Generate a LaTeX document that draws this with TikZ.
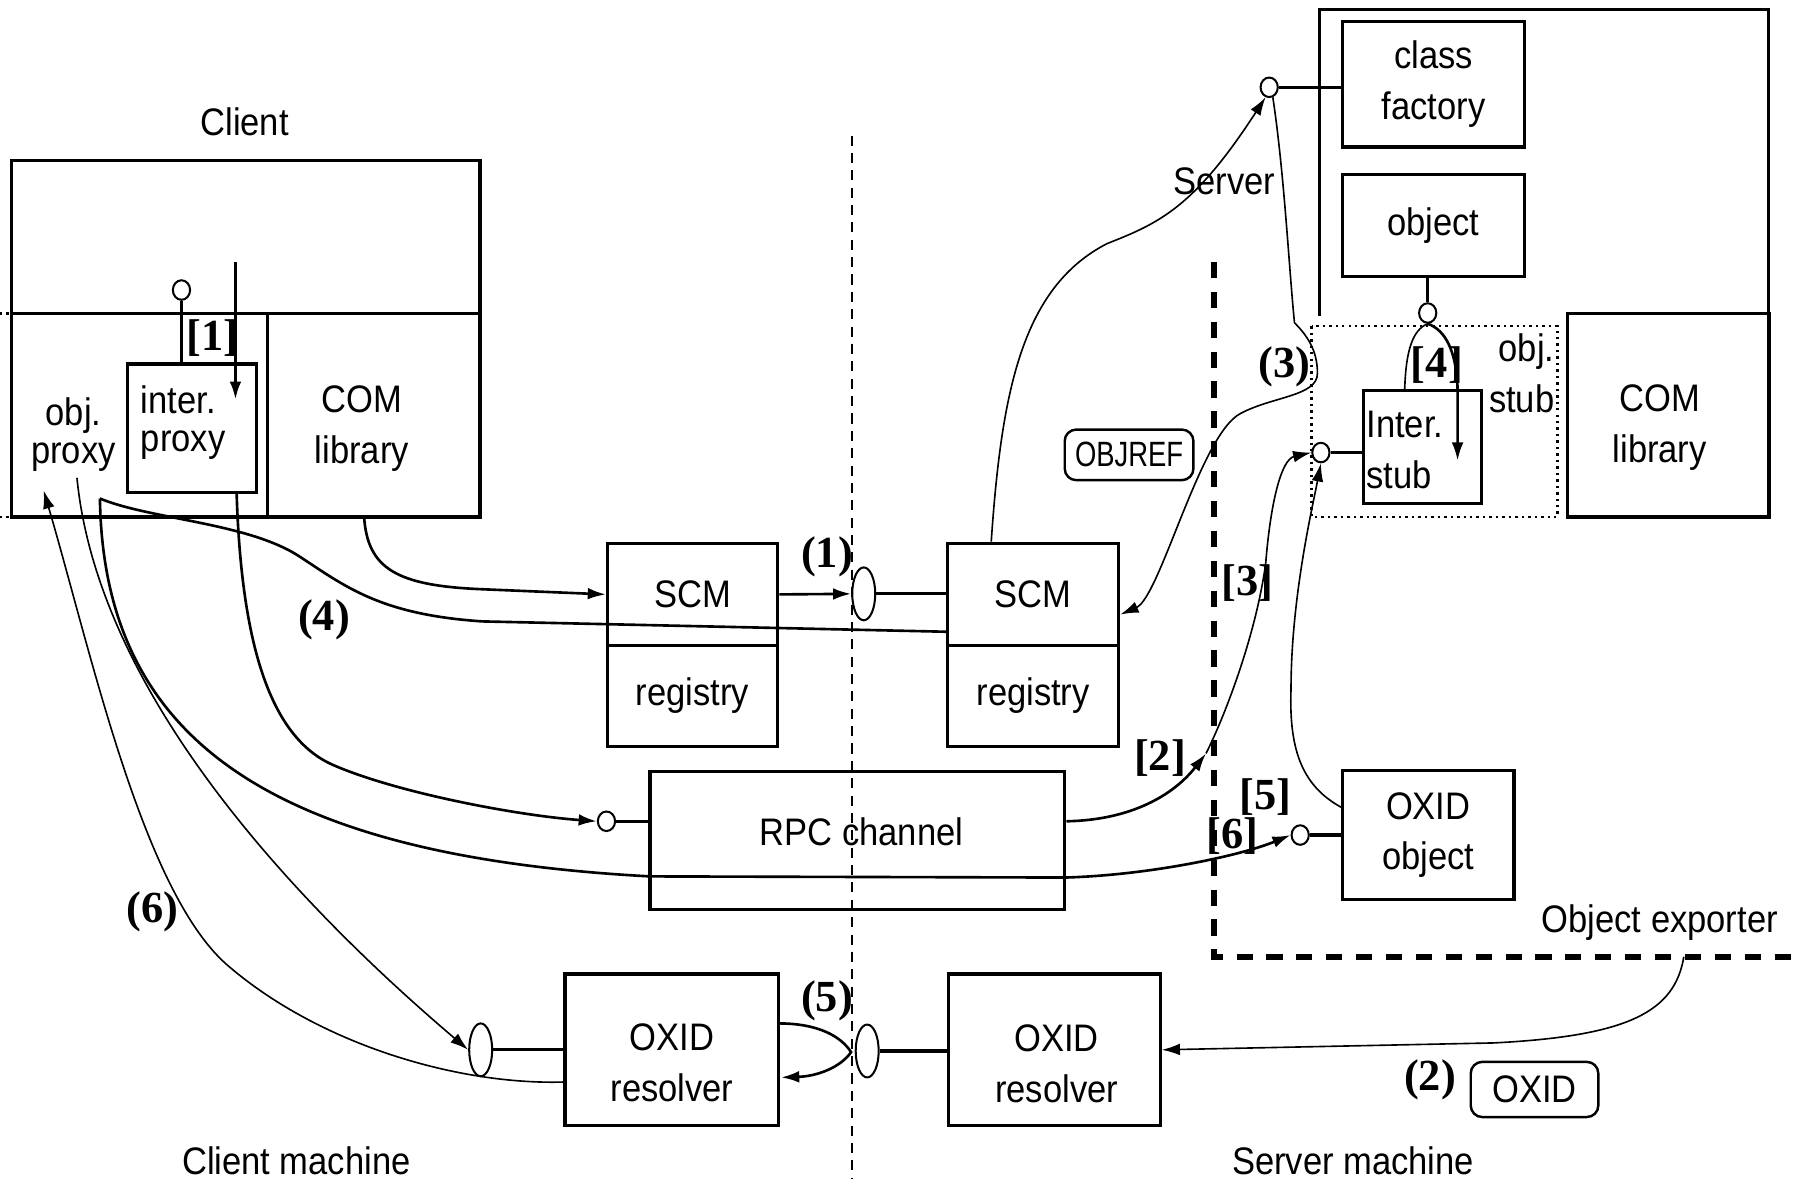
\documentclass[tikz,border=0pt]{standalone}
\usepackage{fontspec}
\setmainfont{Liberation Sans}[FakeStretch=0.9]
\newfontfamily\numfont{Liberation Serif}
\newfontfamily\reffont{Liberation Sans}[FakeStretch=0.78]
\usetikzlibrary{arrows.meta,shapes.geometric}

\begin{document}
\begin{tikzpicture}[x=0.01cm, y=-0.01cm, >={Latex[length=4.5pt,width=2.9pt]},
  font=\fontsize{9.5pt}{12.6pt}\selectfont]

% ---------- styles ----------
\tikzset{
  box/.style={draw, line width=0.8pt, inner sep=0pt, align=center},
  txt/.style={inner sep=0pt, align=center},
  tight/.style={font=\fontsize{9.5pt}{9.4pt}\selectfont},
  lolly/.style={draw, ellipse, line width=0.5pt, inner sep=0pt,
    minimum width=0.15cm, minimum height=0.17cm},
  port/.style={draw, ellipse, line width=0.5pt, inner sep=0pt,
    minimum width=0.2cm, minimum height=0.46cm},
  stem/.style={line width=0.8pt},
  flow/.style={line width=0.65pt},
  thinflow/.style={line width=0.4pt},
  tag/.style={draw, rounded corners=0.1cm, line width=0.6pt, inner sep=0pt},
  num/.style={inner sep=0pt, font=\numfont\bfseries\fontsize{11pt}{11pt}\selectfont},
  dots/.style={line width=0.6pt, dash pattern=on 0.6pt off 1pt},
  machine/.style={line width=0.5pt, dash pattern=on 2.5pt off 1.8pt},
  exporter/.style={line width=1.4pt, dash pattern=on 4pt off 3.4pt}
}

\useasboundingbox (0,0) rectangle (1568,1026);

% ---------- machine boundary ----------
\draw[machine] (742,118) -- (742,1026);
\draw[exporter] (1057,228) -- (1057,833) -- (1568,833);

% ---------- client process ----------
\node[txt] (clientlbl) at (213,106) {Client};
\draw[box] (10,140) rectangle (418,450);
\draw[box] (10,273) -- (418,273);
\draw[box] (233,273) -- (233,450);
\draw[dots] (0,273) -- (10,273);
\draw[dots] (0,450) -- (10,450);
\node[txt, tight] (oproxy) at (64,378) {obj.\\proxy};
\node[box, minimum width=1.12cm, minimum height=1.12cm] (iproxy) at (167,373) {};
\node[txt, tight, align=left, anchor=west] at (122,367.5) {inter.\\proxy};
\node[txt] (comlibC) at (315,373.5) {COM\\library};
\node[lolly] (ipC) at (158,252.5) {};
\draw[stem] (ipC) -- (ipC |- iproxy.north);
\coordinate (callin) at (205,228);
\coordinate (callend) at (205,348);
\draw[stem,->] (callin) -- (callend);
\node[num] at (185,294) {[1]};

% ---------- server process ----------
\draw[box] (1149,275) -- (1149,8) -- (1540,8) -- (1540,273);
\node[box, minimum width=1.58cm, minimum height=1.09cm] (cfactory) at (1248,73.5) {class\\factory};
\node[box, minimum width=1.58cm, minimum height=0.89cm] (object) at (1248,196.5) {object};
\node[box, minimum width=1.75cm, minimum height=1.77cm] (comlibS) at (1452.5,361.5) {};
\node[txt] at (1445,372) {COM\\library};
\draw[dots] (1142,284) rectangle (1356,450);
\node[txt, align=right, anchor=east] at (1354,325) {obj.\\stub};
\node[box, minimum width=1.03cm, minimum height=0.98cm] (istub) at (1238.5,389) {};
\node[txt, align=left, anchor=west] at (1189,392) {Inter.\\stub};
\node[lolly] (cflolly) at (1105,76) {};
\node[lolly] (oblolly) at (1243,272.5) {};
\node[lolly] (stlolly) at (1150,394) {};
\draw[stem] (cflolly) -- (cflolly -| cfactory.west);
\draw[stem] (object.south -| oblolly) -- (oblolly);
\draw[stem] (stlolly) -- (stlolly -| istub.west);
\coordinate (stubcall) at (1269,401);
\draw[thinflow] (oblolly.south) .. controls (1230,287) and (1224,305) .. (istub.north -| 1223,0);
\draw[flow,->] (oblolly.south) .. controls (1258,287) and (1268,305) .. (istub.north -| 1269,0) -- (stubcall);
\node[num] at (1251,318) {[4]};
\node[txt] at (1066,158) {Server};

% ---------- SCMs ----------
\node[box, minimum width=1.48cm, minimum height=0.89cm] (scmL) at (603,517.5) {SCM};
\node[box, minimum width=1.48cm, minimum height=0.88cm] (regL) at (603,606) {registry};
\node[box, minimum width=1.49cm, minimum height=0.89cm] (scmR) at (899.5,517.5) {SCM};
\node[box, minimum width=1.49cm, minimum height=0.88cm] (regR) at (899.5,606) {registry};
\node[port] (port1) at (752,517) {};
\draw[flow,->] (scmL.east) -- (port1.west);
\draw[stem] (port1) -- (port1 -| scmR.west);
\node[num] at (720,485) {(1)};

% ---------- RPC channel ----------
\node[box, minimum width=3.61cm, minimum height=1.2cm] (rpc) at (746.5,732) {};
\node[txt] at (750,724) {RPC channel};
\node[lolly] (rpcport) at (528,715) {};
\draw[stem] (rpcport) -- (rpcport -| rpc.west);

% ---------- OXID resolvers ----------
\node[box, minimum width=1.86cm, minimum height=1.32cm] (oxresL) at (585,914) {};
\node[txt] at (585,925) {OXID\\resolver};
\node[box, minimum width=1.84cm, minimum height=1.32cm] (oxresR) at (918,914) {};
\node[txt] at (920,926) {OXID\\resolver};
\node[port] (portL) at (418.5,914) {};
\node[port] (portR) at (755,915) {};
\draw[stem] (portL) -- (portL -| oxresL.west);
\draw[stem] (portR) -- (portR -| oxresR.west);
\node[num] at (720,871) {(5)};

% ---------- object exporter ----------
\node[box, minimum width=1.49cm, minimum height=1.12cm] (oxobj) at (1243.5,727) {OXID\\object};
\node[lolly] (oxlolly) at (1132,727) {};
\draw[stem] (oxlolly) -- (oxlolly -| oxobj.west);
\node[txt] at (1445,803) {Object exporter};

% ---------- references ----------
\node[tag, minimum width=1.12cm, minimum height=0.44cm,
  font=\fontsize{8.7pt}{10pt}\reffont] (objref) at (983,396) {OBJREF};
\node[tag, minimum width=1.11cm, minimum height=0.48cm] (oxidtag) at (1336,948.5) {OXID};

% ---------- calls ----------
\coordinate (comlibout) at (317,450);
\coordinate (proxyout) at (87,434);
\coordinate (proxyout2) at (67,416);
\coordinate (proxyin) at (38,427);
\coordinate (iproxyout) at (206,429);
\coordinate (resLout) at (492,942);
\coordinate (resLtop) at (678,891);
\coordinate (resLback) at (680,938);
\coordinate (expout) at (1466,833);
\coordinate (oxobjout) at (1168,703);
\coordinate (mid2) at (1050,656);

% COM library -> SCM
\draw[flow,->] (comlibout) .. controls (320,495) and (345,510) .. (420,513) -- (scmL.west);

% (4) obj. proxy -> remote SCM
\draw[flow] (proxyout) .. controls (130,452) and (215,455) .. (260,484)
  .. controls (300,510) and (330,535) .. (420,541) -- (scmR.west |- 0,550);
\node[num] at (282,540) {(4)};

% obj. proxy -> OXID object, through the channel
\draw[flow,->] (proxyout) .. controls (90,640) and (230,745) .. (566,763) -- (927,764)
  .. controls (1000,762) and (1080,745) .. (oxlolly.west);

% obj. proxy -> OXID resolver
\draw[thinflow,->] (proxyout2) .. controls (85,600) and (250,780) .. (portL.west);

% (6) OXID resolver -> obj. proxy
\draw[thinflow,->] (resLout) .. controls (400,945) and (280,910) .. (200,842)
  .. controls (125,780) and (80,570) .. (proxyin);
\node[num] at (133,794) {(6)};

% inter. proxy -> RPC channel
\draw[flow,->] (iproxyout) .. controls (210,560) and (235,642) .. (290,666)
  .. controls (345,690) and (450,710) .. (rpcport.west);

% (5) resolver to resolver and back
\draw[flow,->] (resLtop) .. controls (712,891) and (732,902) .. (741,916)
  .. controls (732,929) and (712,937) .. (resLback);

% (2) exporter -> OXID resolver
\draw[thinflow,->] (expout) .. controls (1458,880) and (1420,902) .. (1300,908) -- (oxresR.east);
\node[num] at (1245,940) {(2)};

% SCM -> class factory
\draw[thinflow,->] (scmR.north -| 863,0) .. controls (872,340) and (890,250) .. (964,212)
  .. controls (1010,194) and (1040,180) .. (cflolly.250);

% (3) class factory -> SCM, handing back the OBJREF
\draw[thinflow,->] (cflolly.290) .. controls (1118,150) and (1122,230) .. (1127,281)
  .. controls (1138,292) and (1147,305) .. (1147,325)
  .. controls (1147,345) and (1108,345) .. (1080,360)
  .. controls (1045,378) and (1010,520) .. (scmR.east |- 0,535);
\node[num] at (1118,319) {(3)};

% [2] [3] channel -> stub
\draw[flow,->] (rpc.east |- rpcport) .. controls (985,714) and (1022,692) .. (mid2);
\draw[thinflow,->] (mid2) .. controls (1068,620) and (1094,550) .. (1102,490)
  .. controls (1106,440) and (1115,400) .. (stlolly.west);
\node[num] at (1010,660) {[2]};
\node[num] at (1086,508) {[3]};

% [5] OXID object -> stub
\draw[thinflow,->] (oxobjout) .. controls (1135,685) and (1122,655) .. (1124,600)
  .. controls (1124,520) and (1143,440) .. (stlolly.south);
\node[num] at (1102,694) {[5]};
\node[num] at (1073,728) {[6]};

% ---------- machines ----------
\node[txt] at (258,1011) {Client machine};
\node[txt] at (1178,1011) {Server machine};

\end{tikzpicture}
\end{document}
